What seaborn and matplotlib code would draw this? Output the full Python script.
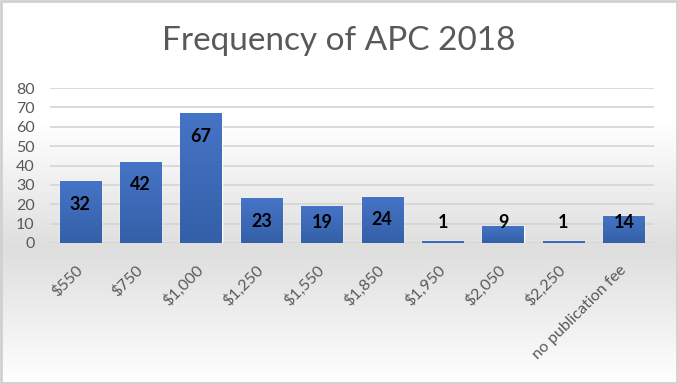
import numpy as np
import matplotlib
matplotlib.use("Agg")
import matplotlib.pyplot as plt
from matplotlib.colors import LinearSegmentedColormap
import seaborn as sns

# Data
categories = ["$550", "$750", "$1,000", "$1,250", "$1,550", "$1,850",
              "$1,950", "$2,050", "$2,250", "no publication fee"]
counts = [32, 42, 67, 23, 19, 24, 1, 9, 1, 14]
yticks = [0, 10, 20, 30, 40, 50, 60, 70, 80]
title = "Frequency of APC 2018"

sns.set_theme(style="white")
plt.rcParams["font.family"] = ["Lato", "DejaVu Sans"]

fig = plt.figure(figsize=(6.78, 3.84), dpi=100)

# background gradient (white -> light gray -> white)
bg = fig.add_axes([0, 0, 1, 1], zorder=-10)
bg_cmap = LinearSegmentedColormap.from_list(
    "bg", [(0.0, "#ffffff"), (0.35, "#dedede"), (0.68, "#ffffff"), (1.0, "#ffffff")])
grad = np.linspace(0, 1, 256).reshape(-1, 1)
bg.imshow(grad, aspect="auto", cmap=bg_cmap, extent=[0, 1, 0, 1], origin="lower")
bg.set_xlim(0, 1)
bg.set_ylim(0, 1)
bg.axis("off")
bg.add_patch(plt.Rectangle((0.001, 0.002), 0.997, 0.995, fill=False,
                           edgecolor="#d0d0d0", linewidth=2))

ax = fig.add_axes([50 / 678, 141 / 384, 604 / 678, 155 / 384])
ax.set_facecolor("none")

sns.barplot(x=categories, y=counts, color="#4472C4", width=0.68, ax=ax, zorder=3)

# gradient fill on each bar
bar_cmap = LinearSegmentedColormap.from_list("bar", ["#3460a8", "#4674c6"])
for p in ax.patches:
    x0, y0 = p.get_x(), p.get_y()
    w, h = p.get_width(), p.get_height()
    im = ax.imshow(grad, aspect="auto", cmap=bar_cmap, origin="lower",
                   extent=[x0, x0 + w, y0, y0 + h], zorder=4)
    im.set_clip_path(p)

for i, v in enumerate(counts):
    ax.text(i, max(v - 12, 10.5), str(v), ha="center", va="center",
            fontsize=13, fontweight="bold", color="black", zorder=6)

ax.set_xlim(-0.5, len(categories) - 0.5)
ax.set_ylim(0, 80)
ax.set_yticks(yticks)
ax.set_yticklabels([str(t) for t in yticks], fontsize=11.5, color="#595959")
ax.set_xticks(range(len(categories)))
ax.set_xticklabels([c.replace("$", r"\$") for c in categories], rotation=45,
                   ha="right", va="center", rotation_mode="anchor",
                   fontsize=11.5, color="#595959")
ax.tick_params(axis="y", length=0, pad=11)
ax.tick_params(axis="x", length=0, pad=18)
ax.yaxis.grid(True, color="#d4d4d4", linewidth=1.2, zorder=0)
ax.set_axisbelow(True)
for s in ax.spines.values():
    s.set_visible(False)
ax.set_xlabel("")
ax.set_ylabel("")

fig.text(0.5, 0.893, title, ha="center", va="center", fontsize=24, color="#595959")

fig.savefig("out.png", dpi=100)
